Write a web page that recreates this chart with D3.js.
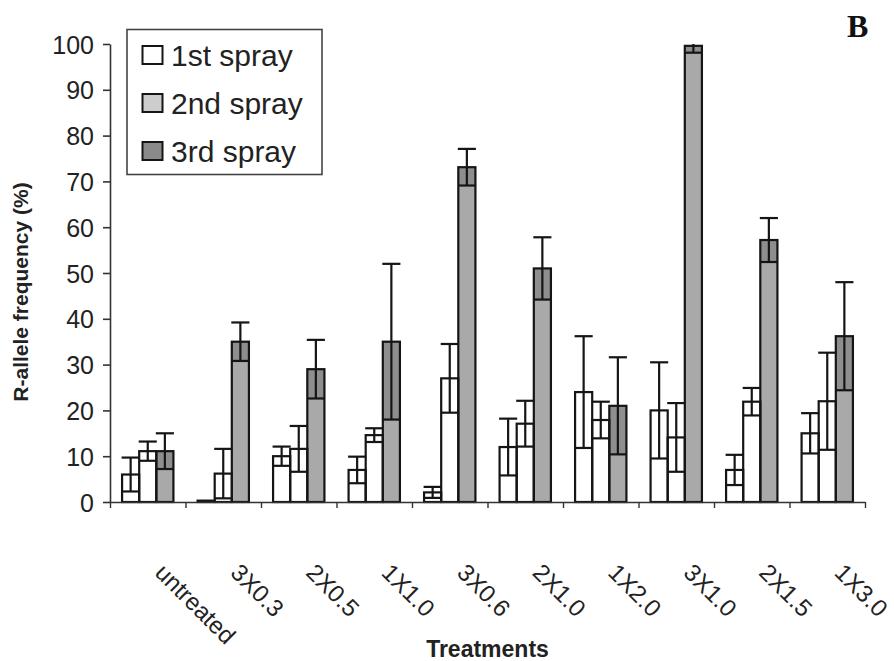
<!DOCTYPE html>
<html>
<head>
<meta charset="utf-8">
<script src="https://cdn.jsdelivr.net/npm/d3@7"></script>
<style>
  html, body { margin: 0; padding: 0; background: #fff; }
  svg { display: block; font-family: "Liberation Sans", Arial, sans-serif; }
</style>
</head>
<body>
<svg id="chart" width="894" height="661"></svg>
<script>
// ---- data ----
const categories = ["untreated", "3X0.3", "2X0.5", "1X1.0", "3X0.6", "2X1.0", "1X2.0", "3X1.0", "2X1.5", "1X3.0"];
const seriesNames = ["1st spray", "2nd spray", "3rd spray"];
const spray1 = [6.0, 0.3, 10.0, 7.0, 2.1, 12.0, 24.0, 20.0, 7.0, 15.0];
const err1   = [3.7, 0.0, 2.1, 2.9, 1.2, 6.2, 12.2, 10.5, 3.3, 4.4];
const spray2 = [11.1, 6.2, 11.6, 14.6, 27.0, 17.1, 17.9, 14.1, 21.9, 22.0];
const err2   = [2.1, 5.4, 5.0, 1.5, 7.5, 5.0, 4.0, 7.5, 3.0, 10.6];
const spray3 = [11.1, 35.0, 29.0, 35.0, 73.1, 51.0, 21.0, 99.6, 57.2, 36.2];
const err3   = [3.9, 4.2, 6.4, 17.0, 4.0, 6.8, 10.6, 1.5, 4.8, 11.8];
const yTicks = [0, 10, 20, 30, 40, 50, 60, 70, 80, 90, 100];

(function () {
const values = [spray1, spray2, spray3];
const errors = [err1, err2, err3];
const barFill = ["#ffffff", "#ffffff", "#a9a9a9"];
const overlayFill = [null, null, "#8e8e8e"];
const legendFill = ["#ffffff", "#cdcdcd", "#8a8a8a"];

const svg = d3.select("#chart");
const mLeft = 110, mRight = 865, mTop = 44, mBottom = 502;

const y = d3.scaleLinear().domain([0, 100]).range([mBottom, mTop]);
const x = d3.scaleBand().domain(categories).range([mLeft, mRight]).paddingInner(0.32).paddingOuter(0.16);
const xs = d3.scaleBand().domain(d3.range(3)).range([0, x.bandwidth()]).padding(0);
const xIdx = d3.scaleLinear().domain([0, categories.length]).range([mLeft, mRight]);

const rows = [];
categories.forEach((c, i) => {
  for (let s = 0; s < 3; s++) rows.push({ c, s, v: values[s][i], e: errors[s][i] });
});

const g = svg.append("g");

g.selectAll("rect.bar").data(rows).join("rect")
  .attr("class", "bar")
  .attr("x", d => x(d.c) + xs(d.s))
  .attr("y", d => y(d.v))
  .attr("width", xs.bandwidth())
  .attr("height", d => y(0) - y(d.v))
  .attr("fill", d => barFill[d.s]);

g.selectAll("rect.ov").data(rows.filter(d => overlayFill[d.s])).join("rect")
  .attr("class", "ov")
  .attr("x", d => x(d.c) + xs(d.s))
  .attr("y", d => y(d.v))
  .attr("width", xs.bandwidth())
  .attr("height", d => y(Math.max(0, d.v - d.e)) - y(d.v))
  .attr("fill", d => overlayFill[d.s]);

g.selectAll("rect.outline").data(rows).join("rect")
  .attr("class", "outline")
  .attr("x", d => x(d.c) + xs(d.s))
  .attr("y", d => y(d.v))
  .attr("width", xs.bandwidth())
  .attr("height", d => y(0) - y(d.v))
  .attr("fill", "none")
  .attr("stroke", "#151515")
  .attr("stroke-width", 2.2);

const eb = g.selectAll("g.err").data(rows.filter(d => d.e > 0)).join("g").attr("class", "err")
  .attr("stroke", "#151515").attr("stroke-width", 2.2);
eb.append("line")
  .attr("x1", d => x(d.c) + xs(d.s) + xs.bandwidth() / 2)
  .attr("x2", d => x(d.c) + xs(d.s) + xs.bandwidth() / 2)
  .attr("y1", d => y(Math.max(0, d.v - d.e)))
  .attr("y2", d => y(Math.min(100, d.v + d.e)));
eb.filter(d => d.v + d.e <= 100).append("line")
  .attr("x1", d => x(d.c) + xs(d.s) - 0.5)
  .attr("x2", d => x(d.c) + xs(d.s) + xs.bandwidth() + 0.5)
  .attr("y1", d => y(d.v + d.e))
  .attr("y2", d => y(d.v + d.e));
eb.append("line")
  .attr("x1", d => x(d.c) + xs(d.s))
  .attr("x2", d => x(d.c) + xs(d.s) + xs.bandwidth())
  .attr("y1", d => y(Math.max(0, d.v - d.e)))
  .attr("y2", d => y(Math.max(0, d.v - d.e)));

const yAxis = svg.append("g").attr("transform", `translate(${mLeft},0)`)
  .call(d3.axisLeft(y).tickValues(yTicks).tickSize(7).tickPadding(9).tickSizeOuter(0));
yAxis.select(".domain").attr("stroke", "#333").attr("stroke-width", 1.6);
yAxis.selectAll(".tick line").attr("stroke", "#333").attr("stroke-width", 1.6);
yAxis.selectAll(".tick text").attr("font-size", 25).attr("fill", "#222")
  .attr("font-family", "'Liberation Sans', Arial, sans-serif").attr("dy", "0.36em");

const xAxis = svg.append("g").attr("transform", `translate(0,${mBottom})`)
  .call(d3.axisBottom(xIdx).tickValues(d3.range(categories.length + 1)).tickFormat("").tickSize(6).tickSizeOuter(0));
xAxis.select(".domain").attr("stroke", "#333").attr("stroke-width", 1.6);
xAxis.selectAll(".tick line").attr("stroke", "#333").attr("stroke-width", 1.4);

svg.append("g").selectAll("text").data(categories).join("text")
  .attr("transform", d => `translate(${x(d) + x.bandwidth() / 2 + 6},574) rotate(45)`)
  .attr("font-size", 24)
  .attr("fill", "#222")
  .attr("text-anchor", "start")
  .text(d => d);

svg.append("text")
  .attr("transform", "translate(28,292) rotate(-90)")
  .attr("text-anchor", "middle")
  .attr("font-size", 21).attr("font-weight", "bold").attr("fill", "#222")
  .text("R-allele frequency (%)");
svg.append("text")
  .attr("x", (mLeft + mRight) / 2).attr("y", 657)
  .attr("text-anchor", "middle")
  .attr("font-size", 23).attr("font-weight", "bold").attr("fill", "#222")
  .text("Treatments");

svg.append("text")
  .attr("x", 847).attr("y", 37)
  .attr("font-family", "'Liberation Serif', 'Times New Roman', serif")
  .attr("font-size", 32).attr("font-weight", "bold").attr("fill", "#111")
  .text("B");

const lg = svg.append("g");
lg.append("rect").attr("x", 127).attr("y", 29.5).attr("width", 195).attr("height", 145)
  .attr("fill", "#fff").attr("stroke", "#444").attr("stroke-width", 1.6);
const li = lg.selectAll("g.li").data(seriesNames).join("g").attr("class", "li")
  .attr("transform", (d, i) => `translate(0,${55 + i * 48})`);
li.append("rect").attr("x", 142.5).attr("y", -9).attr("width", 20).attr("height", 18)
  .attr("fill", (d, i) => legendFill[i]).attr("stroke", "#151515").attr("stroke-width", 2);
li.append("text").attr("x", 171).attr("y", 10.5)
  .attr("font-size", 30).attr("fill", "#222").text(d => d);
})();
</script>
</body>
</html>
